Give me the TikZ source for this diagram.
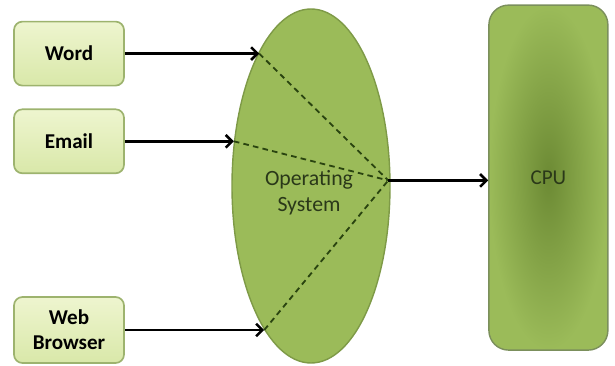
\documentclass[tikz,border=0pt]{standalone}
\usepackage{fontspec}
\setmainfont{Carlito}
\usepackage{xcolor}
\usepackage{tikz}
\usetikzlibrary{shapes.geometric, arrows.meta, positioning}

\definecolor{appfill}{HTML}{EEF5CF}
\definecolor{appfillb}{HTML}{D9E8A9}
\definecolor{appline}{HTML}{9DB36E}
\definecolor{osfill}{HTML}{9BBB59}
\definecolor{osline}{HTML}{7E9A47}
\definecolor{cpuin}{HTML}{6C8A34}
\definecolor{cpuline}{HTML}{7B8F5C}
\definecolor{dashgreen}{HTML}{2A4410}
\definecolor{ostext}{HTML}{2A3819}

\begin{document}
\begin{tikzpicture}[
      >=Latex,
      app/.style={
        rectangle,
        draw=appline,
        line width=1.2pt,
        rounded corners=6pt,
        top color=appfill,
        bottom color=appfillb,
        align=center,
        minimum width=2.75cm,
        minimum height=1.6cm,
        font=\fontsize{15}{18}\selectfont\bfseries
      },
      feed/.style={
        line width=1.8pt,
        -{Straight Barb[length=4.5pt,width=9pt]}
      },
      route/.style={
        draw=dashgreen,
        line width=1.3pt,
        dash pattern=on 4pt off 3pt
      }
    ]
    \useasboundingbox (0,0) rectangle (15.375,-9.15);
    % applications on the left
    \node[app] (word) at (1.725,-1.34) {Word};
    \node[app, below=0.55cm of word] (email) {Email};
    \node[app, minimum height=1.65cm] (web) at (1.725,-8.25) {Web\\Browser};
    % operating system and cpu
    \node[ellipse, draw=osline, line width=1pt, fill=osfill,
          minimum width=3.95cm, minimum height=8.85cm, inner sep=0pt]
          (os) at (7.775,-4.65) {};
    \node[align=center, text=ostext, font=\fontsize{15.5}{19}\selectfont]
          (ostxt) at ([xshift=-0.05cm, yshift=-0.17cm]os.center) {Operating\\System};
    \node[rectangle, draw=cpuline, line width=1pt, rounded corners=14pt,
          inner color=cpuin, outer color=osfill,
          minimum width=2.975cm, minimum height=8.625cm,
          text=ostext, font=\fontsize{15}{17}\selectfont]
          (cpu) at (13.71,-4.44) {CPU};
    % where the lines meet the ellipse
    \coordinate (inword) at (word.east -| os.111);
    \coordinate (inemail) at (email.east -| os.150);
    \coordinate (inweb) at (web.east -| os.252);
    \coordinate (hub) at ([xshift=-0.06cm]os.4);
    \draw[feed] (word) -- (inword);
    \draw[feed] (email) -- (inemail);
    \draw[feed] (web) -- (inweb);
    \draw[route] (inword) -- (hub);
    \draw[route] (inemail) -- (hub);
    \draw[route] (inweb) -- (hub);
    \draw[feed] (hub) -- (hub -| cpu.west);
  \end{tikzpicture}
\end{document}
